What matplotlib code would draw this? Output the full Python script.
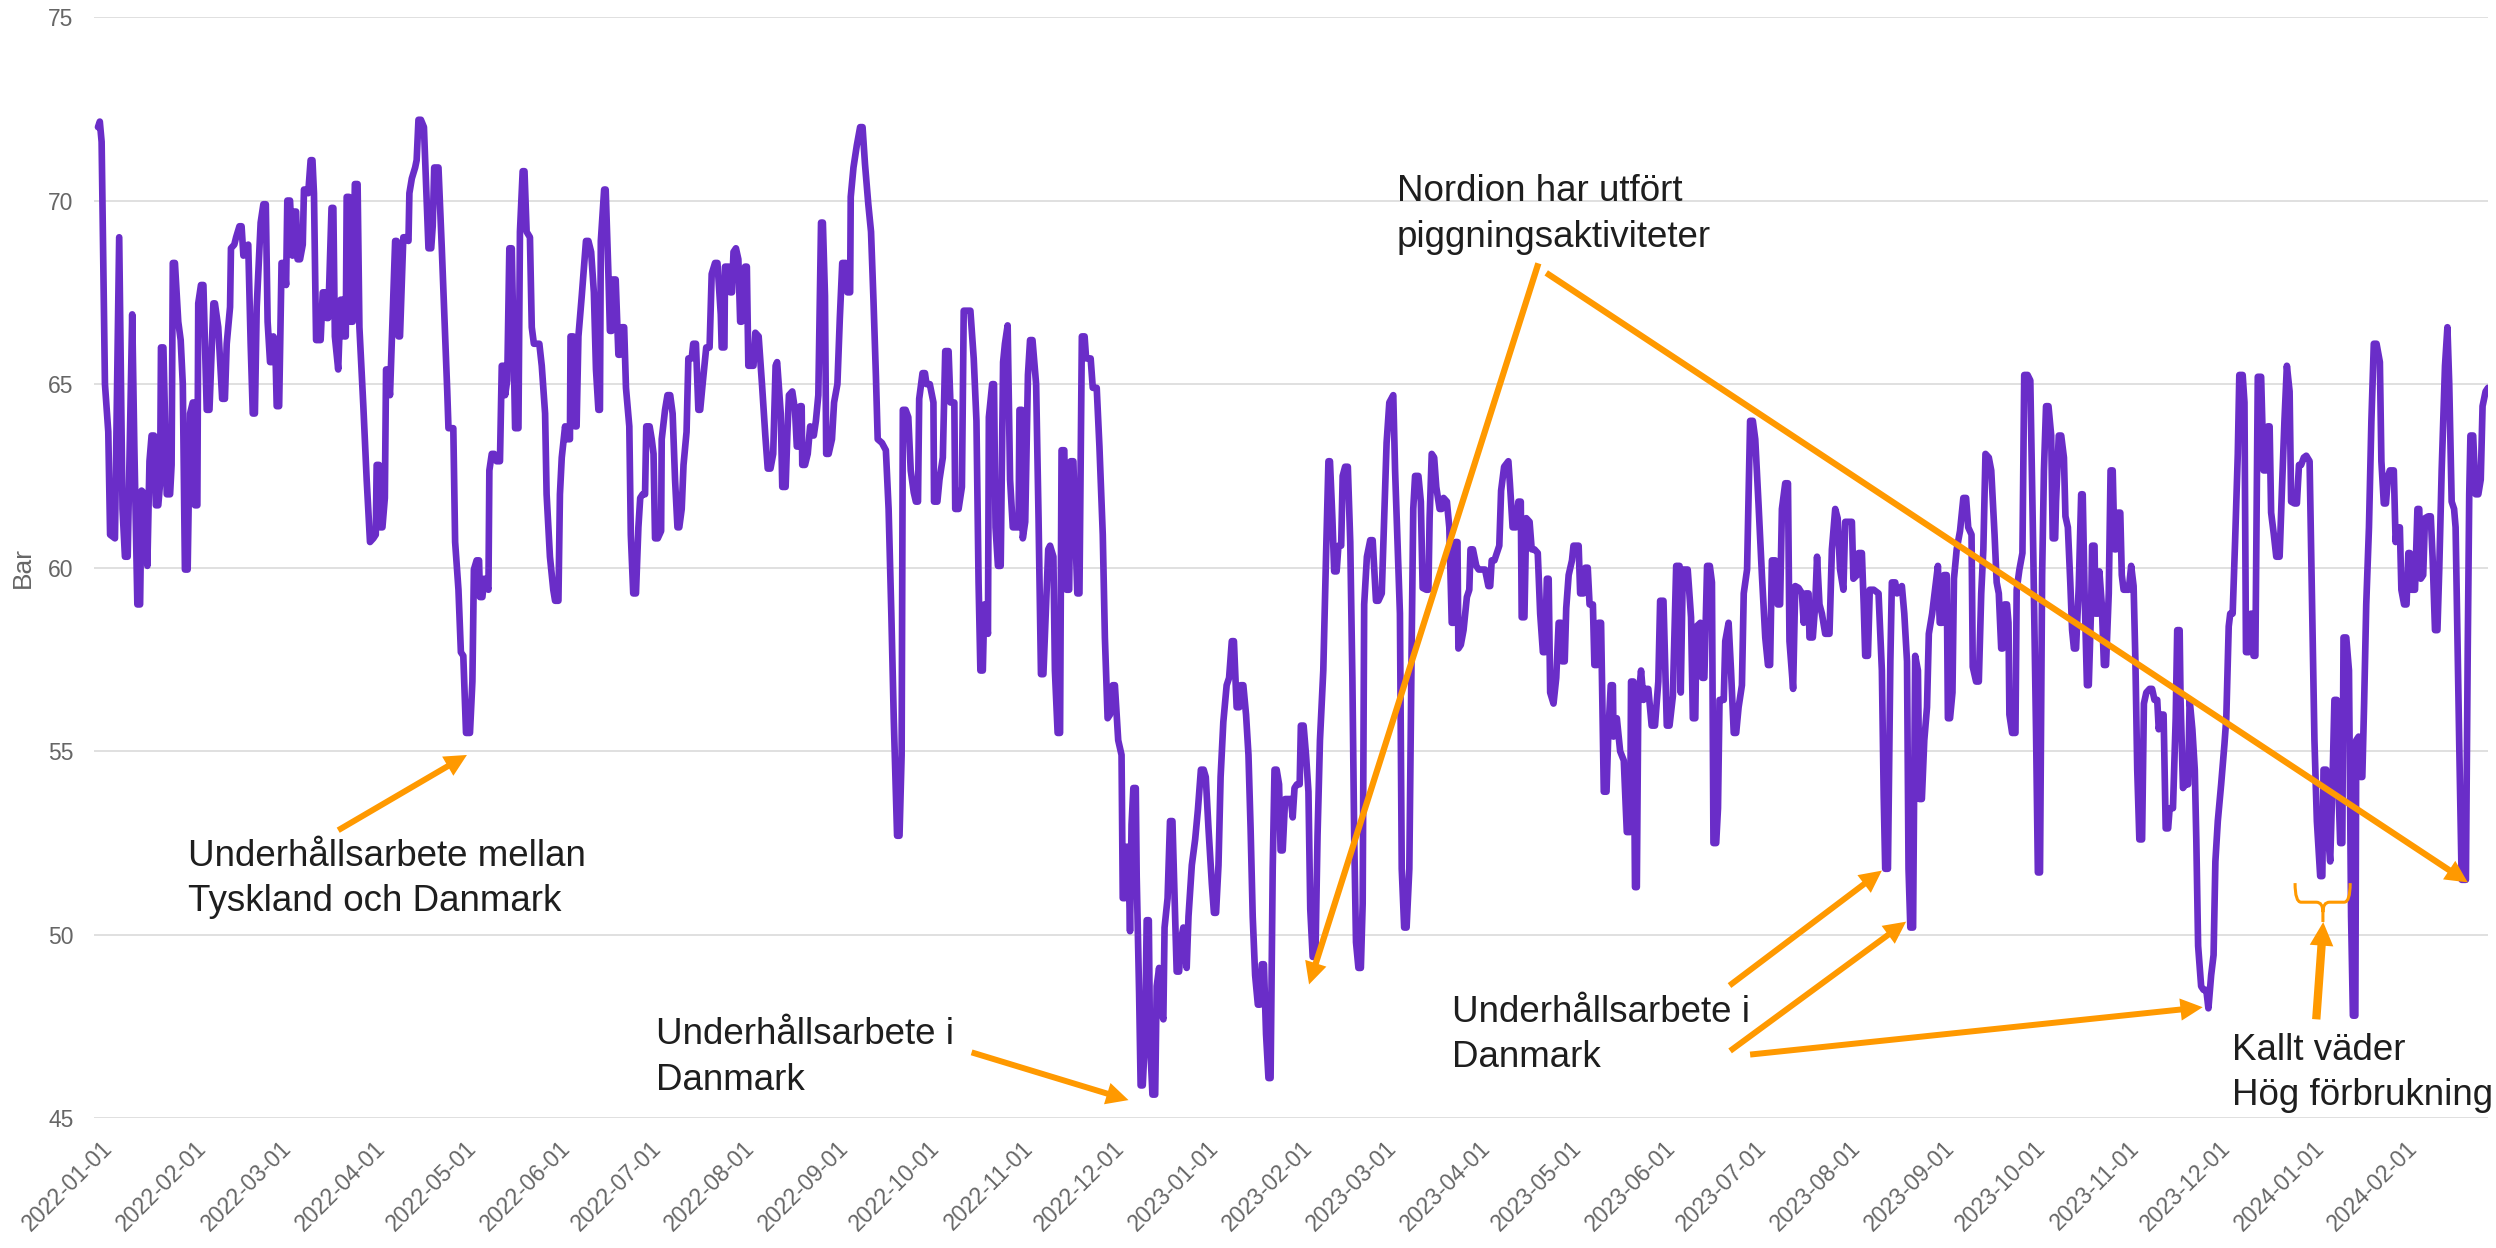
# Line chart of daily gas pressure (bar) with maintenance / weather annotations

import pandas as pd
import matplotlib
matplotlib.use("Agg")
import matplotlib.pyplot as plt
import matplotlib.dates as mdates
from matplotlib.patches import FancyArrowPatch, ArrowStyle, PathPatch
from matplotlib.path import Path
from matplotlib.transforms import ScaledTranslation

START = pd.Timestamp("2022-01-01")

# days since 2022-01-01 and pressure in bar
day_offset = [
    0.0, 0.6, 1.2, 2.3, 3.4, 4.0, 5.6, 7.0, 8.1, 8.9,
    9.8, 11.3, 12.0, 13.0, 13.9, 14.4, 15.5, 16.3, 17.0, 17.7,
    18.5, 19.1, 19.9, 20.5, 20.8, 21.6, 22.7, 23.8, 24.3, 24.7,
    25.4, 26.5, 27.3, 28.0, 28.7, 29.6, 30.4, 31.3, 31.8, 32.0,
    32.8, 33.1, 34.0, 34.8, 35.9, 36.8, 38.1, 38.6, 39.7, 41.0,
    41.9, 42.5, 43.6, 43.9, 45.0, 45.6, 46.7, 47.4, 48.0, 48.9,
    49.6, 50.4, 51.1, 51.8, 52.4, 53.7, 54.6, 55.4, 56.0, 56.8,
    57.3, 57.9, 58.5, 59.0, 59.8, 60.6, 61.5, 62.1, 62.5, 63.4,
    64.2, 64.7, 65.4, 65.9, 66.7, 67.6, 68.0, 68.7, 69.4, 70.2,
    70.8, 71.3, 72.0, 73.5, 74.2, 74.9, 75.5, 76.0, 77.1, 77.7,
    78.2, 79.3, 80.1, 80.8, 81.2, 81.8, 82.1, 82.9, 83.2, 84.1,
    84.8, 85.7, 86.3, 87.6, 88.7, 89.8, 90.9, 91.7, 92.0, 92.8,
    93.1, 93.9, 94.7, 95.1, 95.6, 96.4, 97.3, 98.1, 98.6, 99.2,
    99.7, 100.8, 101.7, 102.5, 102.8, 103.6, 104.7, 105.2, 105.8, 106.6,
    107.6, 109.1, 110.0, 110.5, 111.0, 112.4, 113.5, 114.6, 115.3, 115.7,
    117.3, 117.9, 119.0, 119.8, 120.6, 121.5, 122.8, 123.6, 124.1, 125.0,
    125.8, 126.1, 126.9, 127.5, 128.9, 129.2, 130.0, 130.8, 131.6, 132.7,
    133.3, 134.0, 134.4, 135.1, 135.8, 136.6, 137.7, 138.8,
    139.3, 140.2, 140.8, 141.5, 142.6, 143.2, 143.9, 145.7, 146.5, 147.6,
    148.1, 149.2, 150.3, 150.9, 152.0, 152.5, 153.1, 154.2, 154.7, 155.8,
    156.0, 156.9, 157.5, 158.0, 158.6, 159.7, 161.1, 161.9, 162.8, 163.7,
    164.4, 165.2, 165.7, 166.0, 167.1, 167.6, 168.5, 169.0, 169.6, 169.9,
    170.9, 171.8, 172.3, 172.9, 173.7, 174.3, 175.4, 175.9, 176.7, 177.6,
    178.4, 179.0, 179.8, 180.6, 181.0, 182.1, 182.8, 183.4, 183.9, 184.8,
    185.9, 186.1, 187.2, 188.0, 188.9, 189.7, 190.5, 191.3, 191.9, 192.7,
    193.3, 194.3, 194.9, 196.0, 196.5, 197.4, 198.2, 198.8, 199.6, 200.8,
    201.9, 202.6, 203.7, 204.5, 205.6, 205.9, 206.8, 207.0, 208.2, 208.7,
    209.3, 209.8, 210.6, 211.4, 212.0, 212.5, 213.6, 214.2, 214.7, 216.4,
    217.0, 218.1, 219.2, 220.3, 221.1, 222.0, 222.9, 223.7, 224.2, 225.4,
    225.9, 227.0, 227.6, 228.1, 229.2, 230.1, 230.7, 231.4, 231.8, 232.3,
    232.5, 233.4, 234.3, 235.1, 236.3, 237.0, 237.8, 238.7, 239.3, 240.0,
    240.4, 241.2, 242.3, 243.0, 244.1, 244.9, 245.7, 246.9, 247.4, 248.3,
    248.5, 249.4, 250.5, 251.6, 252.4, 253.2, 254.3, 255.2, 256.0, 256.8,
    257.4, 258.8, 260.1, 261.0, 261.9, 262.7, 263.8, 264.6, 265.3, 265.7,
    266.6, 267.5, 268.3, 269.3, 270.0, 270.7, 271.1, 272.2, 273.0, 273.5,
    274.6, 275.8, 276.0, 277.1, 277.8, 278.9, 279.7, 280.8, 281.4, 282.7,
    283.0, 284.1, 285.2, 285.8, 286.6, 288.0, 289.1, 290.0, 290.7, 291.3,
    292.1, 292.6, 293.8, 294.1, 295.2, 295.8, 296.3, 297.1, 298.0, 298.8,
    299.4, 300.3, 301.1, 302.0, 303.9, 304.2, 305.0, 305.3, 306.1, 307.0,
    307.7, 308.5, 309.7, 310.5, 311.3, 312.1, 313.0, 313.7, 314.3, 315.4,
    315.9, 316.8, 317.6, 318.1, 319.0, 319.7, 320.6, 321.1, 322.0, 322.6,
    323.3, 324.0, 324.8, 325.7, 326.2, 327.7, 328.4, 329.7, 330.6, 331.7,
    332.4, 333.3, 334.1, 335.0, 335.7, 336.8, 337.9, 338.3, 339.0, 339.6,
    340.1, 340.7, 341.2, 341.8, 342.6, 342.9, 343.7, 344.2, 344.9, 345.7,
    346.2, 346.9, 347.3, 348.1, 349.0, 349.5, 350.3, 351.0, 351.7, 352.1,
    353.1, 353.9, 354.7, 355.6, 356.1, 356.9, 357.6, 358.3, 359.4, 360.0,
    361.1, 362.2, 363.1, 364.1, 365.0, 365.7, 366.6, 367.7, 368.4, 369.1,
    369.9, 370.6, 371.5, 372.6, 373.4, 374.3, 375.0, 375.9, 376.8, 377.2,
    378.1, 379.0, 379.8, 380.5, 381.2, 382.0, 382.9, 383.6, 384.2, 384.9,
    385.6, 386.4, 387.1, 387.8, 388.4, 389.1, 389.9, 390.4, 391.1, 391.9,
    393.0, 393.8, 394.4, 395.0, 395.8, 396.7, 397.1, 398.0, 398.8, 399.6,
    400.2, 401.0, 401.9, 402.6, 403.4, 404.5, 405.4, 406.2, 406.7, 407.5,
    408.1, 408.9, 409.5, 410.4, 410.9, 411.7, 412.6, 413.4, 414.1, 414.7,
    415.3, 416.1, 416.9, 417.5, 418.0, 418.9, 420.0, 420.8, 421.9, 422.7,
    423.8, 424.6, 425.4, 426.3, 427.6, 428.2, 429.0, 429.8, 430.4, 431.2,
    432.0, 432.9, 433.7, 434.2, 434.8, 435.9, 436.7, 437.3, 438.5, 439.2,
    439.6, 440.3, 441.1, 441.8, 442.9, 443.6, 444.2, 445.3, 446.1, 446.9,
    447.7, 448.2, 448.8, 449.1, 449.9, 450.8, 451.9, 452.7, 453.1, 453.9,
    455.0, 455.8,
    456.8, 457.9, 459.0, 459.6, 460.1, 461.0, 461.8, 462.6, 463.2, 464.2,
    465.6, 466.1, 467.0, 468.1, 468.9, 469.7, 470.0, 470.9, 471.5, 472.6,
    473.3, 474.2, 475.3, 476.1, 477.0, 477.7, 478.3, 478.9, 479.4, 480.5,
    481.4, 482.2, 483.0, 483.3, 484.2, 484.7, 485.5, 486.6, 487.1, 488.8,
    489.3, 490.4, 491.0, 491.8, 492.4, 493.5, 494.0, 494.9, 495.4, 496.2,
    497.1, 498.0, 498.6, 499.4, 500.1, 500.3, 501.4, 502.5, 503.7, 504.7,
    505.8, 506.1, 506.9, 507.4, 508.0, 508.5, 509.4, 510.2, 511.0, 511.8,
    512.9, 514.0, 515.1, 515.7, 516.8, 517.9, 518.8, 519.9, 521.0, 522.1,
    522.5, 523.2, 524.8, 525.9, 526.5, 527.3, 527.7, 529.0, 529.6, 530.3,
    531.2, 532.1, 532.8, 533.3, 534.2, 534.8, 535.3, 536.7, 537.2, 538.3,
    539.1, 540.0, 540.8, 541.6, 542.7, 543.3, 544.4, 545.4, 546.3, 547.1,
    548.2, 549.3, 550.4, 551.3, 552.0, 552.6, 553.7, 554.5, 555.3, 555.9,
    557.0, 557.9, 558.4, 559.6, 560.3, 561.4, 562.5, 563.1, 563.8, 564.7,
    565.0, 566.1, 566.9, 567.5, 568.3, 569.1, 570.2, 571.6, 572.4, 573.5,
    574.3, 575.1, 576.2, 576.8, 577.6, 579.0, 579.5, 580.7, 581.2, 582.3,
    582.9, 583.4, 584.3, 584.9, 586.2, 587.8, 588.9, 589.5, 590.0, 590.9,
    591.7, 592.2, 593.3, 593.9, 595.5, 596.3, 597.2, 597.7, 598.3, 599.2,
    599.9, 600.8, 601.3, 602.1, 602.9, 603.8, 604.4, 605.5, 606.0, 607.4,
    608.0, 608.8, 609.4, 610.3, 610.7, 611.4, 612.2, 612.7, 613.6, 614.7,
    615.8, 616.7, 617.4, 618.5, 618.9,
    620.0, 620.9, 621.7, 622.4, 623.1, 624.2, 625.0, 626.1, 626.8, 627.5,
    628.3, 628.8, 629.4, 630.2, 630.7, 631.0, 631.9, 633.0, 633.4, 634.3,
    635.3, 635.9, 637.0, 637.9, 638.9, 639.8, 640.4, 641.1, 641.8, 642.4,
    643.1, 643.9, 644.8, 645.3, 646.1, 646.4, 647.3, 648.1, 649.0, 649.5,
    650.3, 651.1, 651.7, 652.3, 653.0, 653.9, 654.7, 655.2, 655.8, 656.6,
    657.2, 658.0, 658.3, 659.1, 659.4, 660.2, 660.7, 661.5, 662.2, 662.9,
    663.8, 664.4, 665.1, 665.7, 666.2, 666.8, 667.6, 668.1, 668.7, 670.4,
    671.2, 672.0, 672.6, 673.2, 673.9, 674.8, 675.4, 676.2, 677.3, 678.1,
    678.9, 679.8, 680.3, 681.1, 681.9, 682.6, 683.4, 683.9, 685.0, 685.9,
    686.4, 687.2, 687.5, 688.3, 689.2, 690.0, 690.5, 691.4, 692.2, 692.7,
    693.3, 694.3, 695.1, 696.0, 696.7, 697.6, 698.4, 699.0, 699.8, 700.9,
    702.0, 702.6, 703.4, 703.9, 704.7, 705.5, 706.4, 706.9, 708.0, 708.6,
    709.1, 710.0, 710.8, 711.6, 712.2, 713.0, 714.1, 714.9, 715.8, 716.3,
    716.9, 717.4, 718.3, 719.1, 720.2, 721.0, 721.8, 722.6, 723.5, 724.0,
    725.1, 725.9, 726.6, 727.3, 728.2, 729.0, 730.1, 730.6, 731.2, 731.7,
    732.5, 733.6, 734.3, 734.7, 735.6, 736.1, 736.9, 737.7, 738.3, 739.1,
    739.4, 740.2, 740.9, 741.3, 742.2, 743.1, 743.8, 744.4, 745.2, 745.5,
    746.3, 746.9, 747.5, 748.1, 748.8, 749.7, 750.5, 751.3, 752.2, 753.3,
    753.8, 754.6, 755.3, 756.0, 756.6, 757.9, 758.5, 759.0, 759.9, 760.4,
    761.3, 762.1, 762.7, 763.2, 763.8, 764.9, 765.7, 766.3, 766.8, 767.6,
    768.2, 769.3, 770.1, 770.7, 771.5, 772.3, 772.9, 773.7, 774.8, 775.6,
    776.2, 777.0, 777.8, 778.3, 778.9, 779.5, 780.3, 781.7, 782.3, 782.8,
    783.2, 784.1, 784.9, 785.8, 786.6, 787.2, 788.2, 789.0,
]

pressure_bar = [
    72.0, 72.15, 71.6, 65.0, 63.7, 60.9, 60.8, 69.0, 61.6, 60.3,
    60.3, 66.9, 63.3, 59.0, 59.0, 62.1, 62.0, 60.05, 62.9, 63.6,
    63.6, 61.7, 61.7, 62.3, 66.0, 66.0, 62.0, 62.0, 62.8, 68.3,
    68.3, 66.7, 66.2, 65.0, 59.95, 59.95, 64.2, 64.5, 64.5, 61.7,
    61.7, 67.2, 67.7, 67.7, 64.3, 64.3, 67.2, 67.2, 66.55, 64.6,
    64.6, 66.1, 67.1, 68.7, 68.8, 69.0, 69.3, 69.3, 68.5, 68.7,
    68.8, 66.1, 64.2, 64.2, 67.1, 69.4, 69.9, 69.9, 66.7, 65.6,
    65.6, 66.3, 66.2, 64.4, 64.4, 68.3, 68.3, 67.7, 70.0, 70.0,
    68.5, 69.7, 69.7, 68.4, 68.4, 68.8, 70.3, 70.3, 70.2, 71.1,
    71.1, 70.2, 66.2, 66.2, 67.5, 67.5, 66.8, 66.8, 69.8, 69.8,
    66.3, 65.4, 67.3, 67.3, 66.3, 66.3, 70.1, 70.1, 66.7, 66.7,
    70.45, 70.45, 66.55, 64.4, 62.4, 60.7, 60.8, 60.9, 62.8, 62.8,
    61.1, 61.1, 61.9, 65.4, 65.4, 64.7, 66.9, 68.9, 68.9, 66.3,
    66.3, 69.0, 69.0, 68.9, 70.2, 70.6, 70.9, 71.1, 72.2, 72.2,
    72.0, 68.7, 68.7, 69.3, 70.9, 70.9, 68.7, 66.3, 64.8, 63.8,
    63.8, 60.7, 59.4, 57.7, 57.6, 55.5, 55.5, 56.9, 59.95, 60.2,
    60.2, 59.2, 59.2, 59.7, 59.4, 62.65, 63.1, 63.1, 62.9, 62.9,
    65.5, 65.5, 64.7, 65.1, 68.7, 68.7, 63.8, 63.8,
    69.15, 70.8, 70.8, 69.15, 69.0, 66.55, 66.1, 66.1, 65.5, 64.2,
    62.0, 60.3, 59.4, 59.1, 59.1, 62.0, 63.0, 63.85, 63.5, 63.5,
    66.3, 66.3, 63.85, 63.85, 66.3, 67.4, 68.9, 68.9, 68.6, 67.5,
    65.4, 64.3, 64.3, 68.9, 70.3, 70.3, 68.0, 66.45, 66.45, 67.85,
    67.85, 65.8, 65.8, 66.55, 66.55, 64.9, 63.85, 60.9, 59.3, 59.3,
    61.1, 61.9, 62.0, 62.0, 63.85, 63.85, 63.5, 63.1, 60.8, 60.8,
    61.0, 63.5, 64.3, 64.7, 64.7, 64.2, 62.4, 61.1, 61.1, 61.6,
    62.8, 63.7, 65.7, 65.7, 66.1, 66.1, 64.3, 64.3, 65.0, 66.0,
    66.0, 68.0, 68.3, 68.3, 66.9, 66.0, 66.0, 68.2, 68.2, 67.5,
    67.5, 68.6, 68.7, 68.4, 66.7, 66.7, 68.2, 68.2, 65.5, 65.5,
    66.4, 66.3, 65.0, 63.6, 62.7, 62.7, 63.1, 65.5, 65.6, 64.2,
    62.2, 62.2, 63.7, 64.7, 64.8, 64.3, 63.3, 63.3, 64.4, 64.4,
    62.8, 62.8, 63.1, 63.85, 63.6, 64.0, 64.7, 69.4, 69.4, 67.4,
    63.1, 63.1, 63.5, 64.5, 65.0, 66.8, 68.3, 68.3, 67.5, 67.5,
    70.1, 70.9, 71.5, 72.0, 72.0, 71.0, 69.9, 69.15, 67.3, 65.25,
    63.5, 63.4, 63.2, 61.6, 58.75, 55.9, 52.7, 52.7, 54.9, 64.3,
    64.3, 64.1, 62.65, 62.05, 61.8, 61.8, 64.6, 65.3, 65.3, 65.0,
    65.0, 64.5, 61.8, 61.8, 62.4, 63.0, 65.9, 65.9, 64.5, 64.5,
    61.6, 61.6, 62.2, 67.0, 67.0, 67.0, 65.7, 64.0, 59.6, 57.2,
    57.2, 59.0, 58.2, 64.1, 65.0, 65.0, 61.1, 60.05, 60.05, 65.6,
    66.1, 66.6, 62.4, 61.1, 61.1, 64.3, 64.3, 60.8, 61.25, 65.25,
    66.2, 66.2, 65.0, 61.35, 57.1, 57.1, 59.0, 60.5, 60.6, 60.3,
    57.2, 55.5, 55.5, 63.2, 63.2, 59.4, 59.4, 62.9, 62.9, 61.1,
    59.3, 59.3, 66.3, 66.3, 65.7, 65.7, 64.9, 64.9, 63.3, 60.9,
    58.1, 55.9, 56.0, 56.8, 56.8, 55.3, 54.9, 51.0, 51.0, 52.4,
    52.4, 50.1, 53.0, 54.0, 54.0, 51.6, 48.4, 45.9, 45.9, 47.3,
    50.4, 50.4, 47.1, 45.65, 45.65, 48.6, 49.1, 47.9, 47.7, 50.2,
    51.0, 53.1, 53.1, 50.5, 49.0, 49.0, 49.9, 50.2, 49.1, 50.5,
    51.9, 52.6, 53.4, 54.5, 54.5, 54.3, 52.9, 51.4, 50.6, 50.6,
    51.9, 54.3, 55.8, 56.8, 57.0, 58.0, 58.0, 56.2, 56.2, 56.8,
    56.8, 56.0, 54.9, 52.9, 50.5, 48.9, 48.1, 48.1, 49.2, 49.2,
    47.3, 46.1, 46.1, 51.8, 54.5, 54.5, 54.1, 52.3, 52.3, 53.7,
    53.7, 53.7, 53.2, 54.0, 54.1, 54.1, 55.7, 55.7, 54.9, 53.9,
    50.7, 49.4, 49.4, 52.7, 55.3, 57.2, 60.3, 62.9, 62.9, 61.35,
    59.9, 59.9, 60.6, 60.6, 62.5, 62.75, 62.75, 60.7, 57.0, 52.7,
    49.8, 49.1, 49.1, 50.85, 59.0, 60.3, 60.75, 60.75, 59.1, 59.1,
    59.3, 61.35, 63.4, 64.5, 64.7, 62.65, 60.7, 58.75, 51.8, 50.2,
    50.2, 51.8, 58.1, 61.6, 62.5, 62.5, 61.8, 59.45, 59.4, 59.4,
    61.35, 63.1, 63.0, 62.2, 61.6, 61.6, 61.9, 61.8, 61.1, 58.5,
    58.5, 60.7, 60.7, 57.8, 57.9, 58.3, 59.2, 59.4, 60.5, 60.5,
    60.05, 59.95,
    59.95, 59.95, 59.5, 59.5, 60.2, 60.2, 60.4, 60.6, 62.1, 62.75,
    62.9, 62.3, 61.1, 61.1, 61.8, 61.8, 58.65, 58.65, 61.35, 61.25,
    60.5, 60.5, 60.4, 58.75, 57.7, 57.7, 59.7, 59.7, 56.6, 56.3,
    57.0, 58.5, 58.5, 57.45, 57.45, 58.9, 59.8, 60.2, 60.6, 60.6,
    59.3, 59.3, 60.0, 60.0, 59.0, 59.0, 57.35, 57.35, 58.5, 58.5,
    53.9, 53.9, 55.5, 56.8, 56.8, 55.4, 55.9, 55.0, 54.75, 52.8,
    52.8, 56.9, 56.9, 51.3, 51.3, 56.4, 57.2, 56.4, 56.7, 56.7,
    55.7, 55.7, 56.9, 59.1, 59.1, 55.7, 55.7, 56.5, 60.05, 60.05,
    56.6, 59.95, 59.95, 58.65, 55.9, 55.9, 58.4, 58.5, 57.0, 57.0,
    60.05, 60.05, 59.6, 52.5, 52.5, 53.45, 56.4, 56.4, 58.0, 58.5,
    57.2, 55.5, 55.5, 56.2, 56.8, 59.3, 59.95, 64.0, 64.0, 63.5,
    61.7, 59.8, 58.1, 57.35, 57.35, 60.2, 60.2, 59.0, 59.0, 61.6,
    62.3, 62.3, 58.0, 56.7, 59.5, 59.45, 59.3, 58.5, 59.3, 59.3,
    58.1, 58.1, 59.0, 60.3, 59.0, 58.75, 58.2, 58.2, 60.5, 61.6,
    61.35, 59.95, 59.4, 61.25, 61.25, 61.25, 59.7, 59.8, 60.4, 60.4,
    59.0, 57.6, 57.6, 59.4, 59.4, 59.3, 57.2, 53.8, 51.8, 51.8,
    57.45, 59.6, 59.6, 59.3, 59.5, 58.75, 57.45, 51.8, 50.2, 50.2,
    57.6, 57.2, 53.7, 53.7, 55.3, 56.2, 58.2, 58.75, 59.1, 60.05,
    58.5, 58.5, 59.8, 59.8, 55.9, 55.9, 56.6, 59.7, 60.5, 61.0,
    61.9, 61.9, 61.1, 60.9, 57.3,
    56.9, 56.9, 59.3, 60.5, 63.1, 63.0, 62.65, 60.9, 59.6, 59.3,
    57.8, 57.8, 59.0, 59.0, 58.5, 56.0, 55.5, 55.5, 59.4, 59.95,
    60.4, 65.25, 65.25, 65.1, 60.3, 55.5, 51.7, 51.7, 59.8, 62.65,
    64.4, 64.4, 63.6, 60.8, 60.8, 61.8, 63.6, 63.6, 63.0, 61.4,
    61.1, 59.6, 58.3, 57.8, 57.8, 59.5, 62.0, 62.0, 59.4, 56.8,
    56.8, 59.0, 60.6, 60.6, 58.75, 58.75, 59.9, 59.0, 57.35, 57.35,
    59.3, 62.65, 62.65, 60.5, 60.5, 61.5, 61.5, 59.8, 59.4, 59.4,
    60.05, 59.5, 57.45, 54.5, 52.6, 52.6, 56.3, 56.6, 56.7, 56.7,
    56.4, 56.4, 55.6, 56.0, 56.0, 52.9, 52.9, 53.45, 53.45, 55.9,
    58.3, 58.3, 56.4, 54.0, 54.1, 54.1, 56.4, 55.6, 54.5, 52.6,
    49.7, 48.6, 48.5, 48.5, 48.0, 48.9, 49.45, 52.0, 53.1, 54.1,
    55.2, 55.9, 58.4, 58.75, 58.75, 60.7, 63.1, 65.25, 65.25, 64.5,
    57.7, 57.7, 58.75, 57.6, 57.6, 65.2, 65.2, 62.65, 62.65, 63.85,
    63.85, 61.5, 60.9, 60.3, 60.3, 62.2, 64.0, 65.5, 64.8, 61.8,
    61.75, 61.75, 62.8, 62.8, 63.0, 63.05, 62.9, 60.5, 57.7, 55.3,
    53.1, 51.6, 51.6, 54.5, 54.5, 52.8, 52.0, 54.3, 56.4, 56.4,
    54.6, 52.5, 52.5, 58.1, 58.1, 57.2, 50.5, 47.8, 47.8, 55.3,
    55.4, 54.3, 54.3, 56.3, 59.0, 61.1, 64.0, 66.1, 66.1, 65.6,
    62.9, 61.75, 61.75, 62.5, 62.65, 62.65, 60.7, 61.1, 61.1, 59.4,
    59.0, 59.0, 60.4, 60.4, 59.4, 59.4, 61.6, 61.6, 59.7, 59.8,
    61.35, 61.4, 61.4, 60.3, 58.3, 58.3, 59.95, 62.65, 65.5, 66.55,
    65.0, 61.8, 61.6, 61.1, 58.1, 55.2, 51.5, 51.5, 57.7, 62.0,
    63.6, 63.6, 62.0, 62.0, 62.4, 64.4, 64.8, 64.9,
]

assert len(day_offset) == len(pressure_bar)

y_ticks = [45, 50, 55, 60, 65, 70, 75]

PURPLE = "#6A2DC8"
ORANGE = "#FF9900"
GREY = "#666666"
TEXT = "#1E1E1E"

plt.rcParams["font.family"] = ["Liberation Sans", "DejaVu Sans"]


def xd(day):
    # day offset -> matplotlib date number
    return mdates.date2num(START + pd.Timedelta(days=day))


fig = plt.figure(figsize=(24.96, 12.48), dpi=100)
ax = fig.add_axes([0.0378, 0.1038, 0.9590, 0.8826])

dates = START + pd.to_timedelta(day_offset, unit="D")
ax.plot(dates, pressure_bar, color=PURPLE, lw=4.8,
        solid_joinstyle="round", solid_capstyle="round", zorder=3)

ax.set_ylim(45, 75)
ax.set_yticks(y_ticks)
ax.set_xlim(xd(-1.2), xd(789.0))
ax.xaxis.set_major_locator(mdates.MonthLocator())
ax.xaxis.set_major_formatter(mdates.DateFormatter("%Y-%m-%d"))

ax.grid(axis="y", color="#DADADA", lw=1.2)
ax.grid(axis="x", visible=False)
ax.set_axisbelow(True)
for s in ax.spines.values():
    s.set_visible(False)

ax.tick_params(axis="both", length=0, labelsize=16.5, labelcolor=GREY)
ax.tick_params(axis="y", pad=15)
ax.tick_params(axis="x", pad=13)

shift = ScaledTranslation(3 / 100, 0, fig.dpi_scale_trans)
for lab in ax.get_xticklabels():
    lab.set_rotation(45)
    lab.set_ha("right")
    lab.set_va("top")
    lab.set_rotation_mode("anchor")
    lab.set_transform(lab.get_transform() + shift)

fig.text(23 / 2496, 1 - 567 / 1248, "Bar", rotation=90, ha="center",
         va="center", fontsize=19, color=GREY)


# annotations
def arrow(tail, tip, tail_w=4.3, head_w=16.0, head_l=16.0):
    style = ArrowStyle.Simple(head_length=head_l, head_width=head_w,
                              tail_width=tail_w)
    ax.add_patch(FancyArrowPatch((xd(tail[0]), tail[1]), (xd(tip[0]), tip[1]),
                                 arrowstyle=style, mutation_scale=1,
                                 color=ORANGE, lw=0, shrinkA=0, shrinkB=0,
                                 zorder=4))


arrow((79.3, 52.85), (121.8, 54.9))
arrow((288.4, 46.80), (340.2, 45.50))
arrow((475.5, 68.29), (399.8, 48.65), tail_w=4.5)
arrow((478.1, 68.03), (782.3, 51.43), tail_w=4.5)
arrow((538.6, 48.62), (588.9, 51.75))
arrow((538.8, 46.84), (596.9, 50.36))
arrow((545.4, 46.74), (694.8, 48.03))
arrow((732.3, 47.70), (734.6, 50.35), tail_w=6.0, head_w=17.0, head_l=17.0)

# curly brace over the cold-weather dip
bl, bm, br = 725.3, 734.5, 743.5
top, bar, tip = 51.41, 50.89, 50.35
brace_verts = [
    (xd(bl), top), (xd(bl), bar), (xd(bl + 2.0), bar), (xd(bm - 2.2), bar),
    (xd(bm), bar), (xd(bm), bar - 0.27), (xd(bm), tip),
    (xd(bm), bar - 0.27), (xd(bm), bar), (xd(bm + 2.2), bar),
    (xd(br - 2.0), bar), (xd(br), bar), (xd(br), top),
]
brace_codes = [Path.MOVETO, Path.CURVE3, Path.CURVE3, Path.LINETO,
               Path.CURVE3, Path.CURVE3, Path.LINETO,
               Path.MOVETO, Path.CURVE3, Path.CURVE3, Path.LINETO,
               Path.CURVE3, Path.CURVE3]
ax.add_patch(PathPatch(Path(brace_verts, brace_codes), fill=False,
                       edgecolor=ORANGE, lw=2.2, zorder=4))

notes = [
    (29.7, 52.62, "Underhållsarbete mellan\nTyskland och Danmark"),
    (184.1, 47.75, "Underhållsarbete i\nDanmark"),
    (428.7, 70.71, "Nordion har utfört\npiggningsaktiviteter"),
    (446.9, 48.36, "Underhållsarbete i\nDanmark"),
    (704.5, 47.33, "Kallt väder\nHög förbrukning"),
]
for d, v, txt in notes:
    ax.text(xd(d), v, txt, fontsize=26.5, color=TEXT, ha="left", va="top",
            linespacing=1.38, zorder=5)

fig.savefig("out.png", dpi=100)
